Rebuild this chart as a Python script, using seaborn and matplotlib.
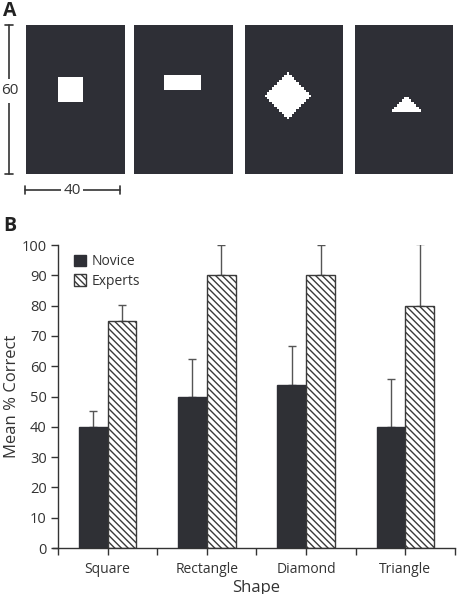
import numpy as np
import pandas as pd
import matplotlib
matplotlib.use("Agg")
import matplotlib.pyplot as plt
from matplotlib.colors import ListedColormap
from matplotlib.patches import Patch
import seaborn as sns

# datos del panel B
shapes = ["Square", "Rectangle", "Diamond", "Triangle"]
novice = [40, 50, 53.7, 40]
experts = [75, 90, 90, 80]
novice_err = [5.2, 12.3, 13.0, 15.7]
experts_err = [5.2, 10.0, 10.0, 20.3]
groups = ["Novice", "Experts"]

# estimulos del panel A (rejilla 40 x 60)
stim_w, stim_h = 40, 60
square_box = [13, 23, 21, 31]        # x0, x1, y0, y1
rectangle_box = [12, 27, 20, 26]
diamond_center = [17.5, 28.5]
diamond_radius = 9.5
triangle_apex = [21, 28]
triangle_base = [14.5, 27.5, 35]     # x0, x1, y

dark = "#2e2f36"
txt = "#333333"

sns.set_theme(style="white")
plt.rcParams["font.family"] = ["Open Sans", "DejaVu Sans"]
plt.rcParams["hatch.linewidth"] = 1.0

W, H = 458, 594
fig = plt.figure(figsize=(W / 100, H / 100), dpi=100)


def px_axes(x0, y0, x1, y1):
    return fig.add_axes([x0 / W, 1 - y1 / H, (x1 - x0) / W, (y1 - y0) / H])


# construir las mascaras de los estimulos
yy, xx = np.mgrid[0:stim_h, 0:stim_w] + 0.5
masks = []
x0, x1, y0, y1 = square_box
masks.append((xx >= x0) & (xx <= x1) & (yy >= y0) & (yy <= y1))
x0, x1, y0, y1 = rectangle_box
masks.append((xx >= x0) & (xx <= x1) & (yy >= y0) & (yy <= y1))
cx, cy = diamond_center
masks.append(np.abs(xx - cx) + np.abs(yy - cy) <= diamond_radius)
ax_, ay_ = triangle_apex
bx0, bx1, by = triangle_base
frac = (yy - ay_) / (by - ay_)
masks.append((yy >= ay_) & (yy <= by) &
             (xx >= ax_ - frac * (ax_ - bx0)) & (xx <= ax_ + frac * (bx1 - ax_)))

cmap = ListedColormap([dark, "white"])
lefts = [26, 134, 245, 355]
for left, m in zip(lefts, masks):
    a = px_axes(left, 25, left + 98, 174)
    a.imshow(m.astype(int), cmap=cmap, vmin=0, vmax=1, aspect="auto",
             interpolation="nearest")
    a.set_axis_off()

# panel B
df = pd.DataFrame({
    "Shape": shapes * 2,
    "Group": [groups[0]] * 4 + [groups[1]] * 4,
    "Value": novice + experts,
})

ax = px_axes(53, 245, 455, 548)
sns.barplot(data=df, x="Shape", y="Value", hue="Group", order=shapes,
            hue_order=groups, palette=[dark, "white"], width=0.58,
            errorbar=None, ax=ax, legend=False, zorder=2)

errs = [novice_err, experts_err]
bar_conts = list(ax.containers)
for i, cont in enumerate(bar_conts):
    xs = []
    hs = []
    for p in cont.patches:
        p.set_linewidth(1.0)
        if i == 0:
            p.set_edgecolor(dark)
        else:
            p.set_edgecolor("#3a3a3a")
            p.set_hatch("\\\\\\\\\\")
        xs.append(p.get_x() + p.get_width() / 2)
        hs.append(p.get_height())
    ax.errorbar(xs, hs, yerr=[np.zeros(len(hs)), errs[i]], fmt="none",
                ecolor="#555555", elinewidth=1.0, capsize=3, capthick=1.0,
                zorder=1)

ax.set_ylim(0, 100)
ax.set_xlim(-0.55, 3.5)
ax.set_yticks(range(0, 101, 10))
ax.set_xticks(range(4))
ax.set_xticks(np.arange(-0.5, 3.6, 1), minor=True)
ax.tick_params(axis="both", which="both", direction="out", length=5,
               width=1, color=txt, labelsize=10.5, labelcolor=txt,
               bottom=True, left=True, pad=3)
ax.tick_params(axis="x", labelsize=10, pad=5)
ax.spines["left"].set_position(("data", -0.5))
for s in ["top", "right"]:
    ax.spines[s].set_visible(False)
for s in ["left", "bottom"]:
    ax.spines[s].set_color(txt)
    ax.spines[s].set_linewidth(1.0)
ax.set_xlabel("")
ax.set_ylabel("Mean % Correct", fontsize=12, color=txt)
ax.yaxis.set_label_coords(-0.082, 0.5)

handles = [Patch(facecolor=dark, edgecolor=dark),
           Patch(facecolor="white", edgecolor="#3a3a3a", hatch="\\\\\\\\\\")]
ax.legend(handles, groups, loc="upper left", bbox_to_anchor=(0.02, 1.01),
          frameon=False, fontsize=10, handlelength=0.9, handleheight=0.9,
          handletextpad=0.4, labelspacing=0.3, labelcolor=txt)

# capa superior para textos y cotas
ov = fig.add_axes([0, 0, 1, 1])
ov.set_xlim(0, W)
ov.set_ylim(H, 0)
ov.set_axis_off()
ov.patch.set_visible(False)

ov.text(3, 1, "A", fontsize=14, fontweight="bold", va="top", ha="left",
        color="#222222")
ov.text(3, 216, "B", fontsize=14, fontweight="bold", va="top", ha="left",
        color="#222222")
ov.text(256, 580, "Shape", fontsize=12, va="top", ha="center", color=txt)

ov.annotate("", xy=(9, 25), xytext=(9, 174),
            arrowprops=dict(arrowstyle="|-|,widthA=0.25,widthB=0.25",
                            color=txt, lw=1.2, shrinkA=0, shrinkB=0))
ov.text(9.5, 91, "60", fontsize=11, ha="center", va="center", color=txt,
        bbox=dict(facecolor="white", edgecolor="none", pad=3))
ov.annotate("", xy=(25, 190), xytext=(120, 190),
            arrowprops=dict(arrowstyle="|-|,widthA=0.25,widthB=0.25",
                            color=txt, lw=1.2, shrinkA=0, shrinkB=0))
ov.text(72, 190, "40", fontsize=11, ha="center", va="center", color=txt,
        bbox=dict(facecolor="white", edgecolor="none", pad=2))

fig.savefig("out.png", dpi=100)
